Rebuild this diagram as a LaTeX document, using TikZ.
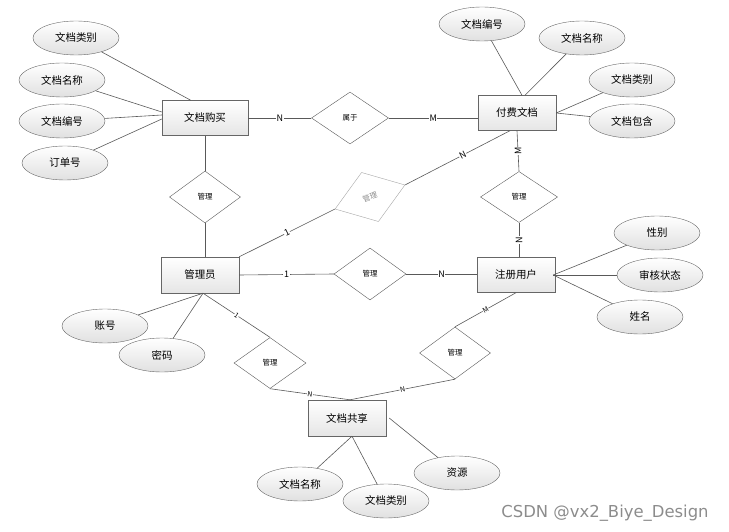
\documentclass[tikz,border=0pt]{standalone}
\usepackage{fontspec}
\setmainfont{Noto Sans CJK SC}
\newfontfamily\wmfont{DejaVu Sans}
\usetikzlibrary{shapes.geometric,calc}
\tikzset{
  ent/.style={rectangle, draw=black!60, top color=white, bottom color=black!10,
    minimum width=78bp, minimum height=35bp, inner sep=0pt, font=\fontsize{10.5}{12}\selectfont},
  attr/.style={ellipse, draw=black!60, top color=white, bottom color=black!12,
    minimum width=86bp, minimum height=34bp, inner sep=0pt, font=\fontsize{10.5}{12}\selectfont},
  rel/.style={diamond, draw=black!65, fill=white, minimum width=74bp, minimum height=52bp,
    inner sep=0pt, font=\fontsize{7.5}{9}\selectfont},
  conn/.style={draw=black!65, line width=0.6bp},
  lab/.style={fill=white, inner sep=0.6bp, font=\fontsize{9}{10}\selectfont},
  slab/.style={fill=white, inner sep=0.4bp, font=\fontsize{7}{8}\selectfont, sloped},
}
\begin{document}
\begin{tikzpicture}[x=1bp,y=-1bp]
\useasboundingbox (0,0) rectangle (729,532);
% entities
\node[ent, minimum width=86bp] (gm) at (205,118) {文档购买};
\node[ent] (ff) at (517,113) {付费文档};
\node[ent, minimum height=36bp] (gy) at (200,275) {管理员};
\node[ent] (zc) at (516,275) {注册用户};
\node[ent, minimum height=36bp] (gx) at (347,418) {文档共享};
% attributes
\node[attr] (lb) at (76,38) {文档类别};
\node[attr] (lm) at (62,80) {文档名称};
\node[attr] (ln) at (62,121) {文档编号};
\node[attr] (lo) at (65,163) {订单号};
\node[attr] (tn) at (482,24) {文档编号};
\node[attr] (tm) at (582,38) {文档名称};
\node[attr] (rc) at (632,80) {文档类别};
\node[attr] (rb) at (632,121) {文档包含};
\node[attr] (sx) at (657,233) {性别};
\node[attr] (sh) at (660,275) {审核状态};
\node[attr] (sn) at (640,317) {姓名};
\node[attr] (zh) at (105,326) {账号};
\node[attr] (mm) at (162,355) {密码};
\node[attr] (bn) at (300,484) {文档名称};
\node[attr] (bc) at (386,501) {文档类别};
\node[attr] (zy) at (457,473) {资源};
% relations
\node[rel, minimum width=77bp] (su) at (350,118) {属于};
\node[rel, minimum width=71bp] (r1) at (205,197) {管理};
\node[rel, draw=black!35, text=black!45, rotate=19] (gr) at (370,197) {管理};
\node[rel, minimum width=77bp, minimum height=51bp] (r3) at (519,197) {管理};
\node[rel, minimum width=72bp] (r4) at (370,274) {管理};
\node[rel, minimum width=72bp, minimum height=51bp] (r5) at (270,363) {管理};
\node[rel, minimum width=71bp] (r6) at (455,353) {管理};
% attribute links
\draw[conn] (lb) -- ($(gm.north west)+(29,0)$);
\draw[conn] (lm) -- ($(gm.west)+(0,-6)$);
\draw[conn] (ln) -- ($(gm.west)+(0,-3)$);
\draw[conn] (lo) -- ($(gm.west)+(0,1)$);
\draw[conn] (tn) -- ($(ff.north)+(5,0)$);
\draw[conn] (tm) -- ($(ff.north)+(8,0)$);
\draw[conn] (rc) -- (ff.east);
\draw[conn] (rb) -- (ff.east);
\draw[conn] (sx) -- ($(zc.east)+(-2,0)$);
\draw[conn] (sh) -- ($(zc.east)+(-2,0)$);
\draw[conn] (sn) -- ($(zc.east)+(-2,0)$);
\draw[conn] (zh) -- ($(gy.south)+(3,0)$);
\draw[conn] (mm) -- ($(gy.south)+(3,0)$);
\draw[conn] (bn) -- ($(gx.south)+(5,0)$);
\draw[conn] (bc) -- ($(gx.south)+(5,0)$);
\draw[conn] (zy) -- ($(gx.east)+(3,0)$);
% relation links
\draw[conn] (gm.east) -- node[lab] {N} (su.west);
\draw[conn] (su.east) -- node[lab, pos=0.5] {M} (su.east -| ff.west);
\draw[conn] (r1.north) -- (r1.north |- gm.south);
\draw[conn] (r1.south) -- (r1.south |- gy.north);
\draw[conn] (ff.south) -- node[lab, rotate=90] {M} (r3.north);
\draw[conn] ($(ff.south)+(-7,0)$) -- node[lab, sloped, pos=0.45] {N} (gr.east);
\draw[conn] (gr.west) -- node[lab, sloped] {1} (gy.north east);
\draw[conn] (r3.south) -- node[lab, rotate=90] {N} (r3.south |- zc.north);
\draw[conn] (gy.east) -- node[lab] {1} (r4.west);
\draw[conn] (r4.east) -- node[lab] {N} (r4.east -| zc.west);
\draw[conn] ($(gy.south)+(3,0)$) -- node[slab, pos=0.5] {1} (r5.north);
\draw[conn] (r5.south) -- node[slab] {N} ($(gx.north)+(3,0)$);
\draw[conn] ($(gx.north)+(3,0)$) -- node[slab] {N} (r6.south);
\draw[conn] (r6.north) -- node[slab] {M} (zc.south);
% watermark
\node[text=black!45, font=\wmfont\fontsize{16.5}{18}\selectfont] (wm) at (605,513) {CSDN @vx2\_Biye\_Design};
\end{tikzpicture}
\end{document}
